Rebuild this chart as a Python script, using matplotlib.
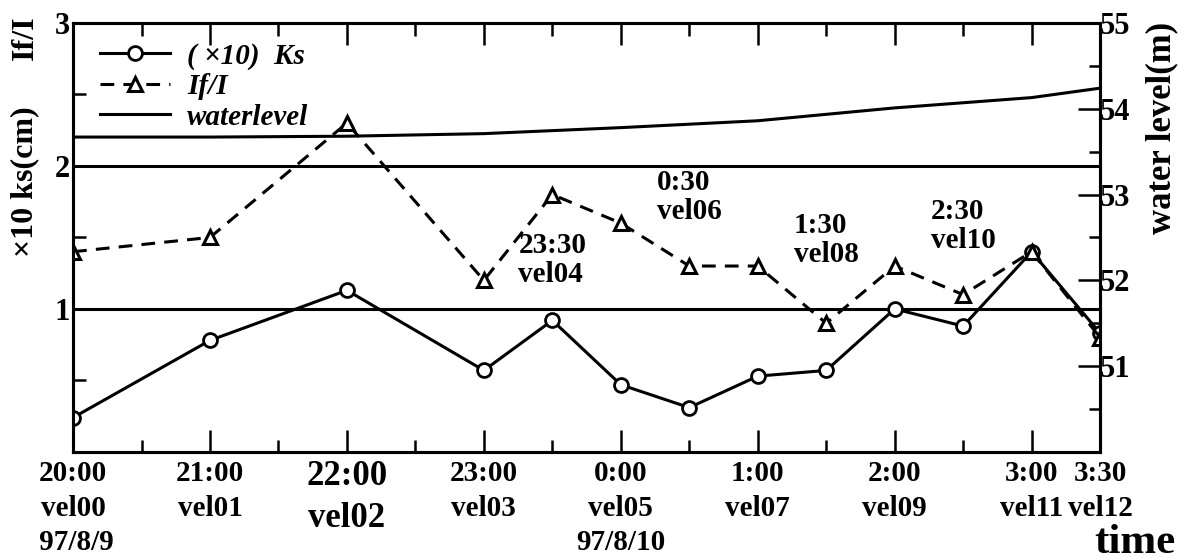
import matplotlib
matplotlib.use('Agg')
import matplotlib.pyplot as plt
from matplotlib.ticker import MultipleLocator, FixedLocator

plt.rcParams['font.family'] = ['Liberation Serif', 'DejaVu Serif']
plt.rcParams['font.weight'] = 'bold'

# data (hours after 20:00 on 97/8/9)
hours = [0, 1, 2, 3, 3.5, 4, 4.5, 5, 5.5, 6, 6.5, 7, 7.5]
ks10 = [0.24, 0.78, 1.13, 0.57, 0.92, 0.47, 0.31, 0.53, 0.57, 1.00, 0.88, 1.40, 0.83]
if_ratio = [1.4, 1.5, 2.3, 1.2, 1.8, 1.6, 1.3, 1.3, 0.9, 1.3, 1.1, 1.4, 0.8]
wl_hours = [0, 1, 2, 3, 4, 5, 6, 7, 7.5]
waterlevel = [53.67, 53.67, 53.68, 53.71, 53.78, 53.86, 54.01, 54.13, 54.24]

tick_hours = [0, 1, 2, 3, 4, 5, 6, 7, 7.5]
tick_labels = ['20:00\nvel00\n 97/8/9', '21:00\nvel01', '22:00\nvel02', '23:00\nvel03',
               '0:00\nvel05\n97/8/10', '1:00\nvel07', '2:00\nvel09', '3:00\nvel11', '3:30\nvel12']
half_hours = [3.5, 4.5, 5.5, 6.5]
half_labels = ['23:30\nvel04', '0:30\nvel06', '1:30\nvel08', '2:30\nvel10']

fig = plt.figure(figsize=(11.88, 5.6), dpi=100)
ax = fig.add_axes([0.0615, 0.193, 0.8645, 0.766])
ax2 = ax.twinx()

lw = 2.2
ax.axhline(1, color='k', lw=lw, zorder=1)
ax.axhline(2, color='k', lw=lw, zorder=1)

l1, = ax.plot(hours, ks10, '-', color='k', lw=lw, marker='o', markersize=10,
              markerfacecolor='white', markeredgewidth=2, label='( \u00d710)  Ks', zorder=3)
l2, = ax.plot(hours, if_ratio, '--', color='k', lw=lw, dashes=(4.5, 3), marker='^', markersize=10,
              markerfacecolor='white', markeredgewidth=2.2, label='If/I', zorder=3)
l3, = ax2.plot(wl_hours, waterlevel, '-', color='k', lw=lw, label='waterlevel')

ax.set_xlim(0, 7.5)
ax.set_ylim(0, 3)
ax2.set_ylim(50, 55)

for s in ax.spines.values():
    s.set_linewidth(2.2)
for s in ax2.spines.values():
    s.set_linewidth(2.2)

ax.xaxis.set_major_locator(FixedLocator(tick_hours))
ax.set_xticklabels(tick_labels, fontsize=21, linespacing=1.35)
ax.xaxis.set_minor_locator(MultipleLocator(0.5))
ax.tick_params(axis='x', which='major', direction='in', length=16, width=1.8, top=True, pad=6)
ax.tick_params(axis='x', which='minor', direction='in', length=9, width=1.8, top=True)
ax.get_xticklabels()[2].set_fontsize(25)

ax.set_yticks([1, 2, 3])
ax.set_yticklabels(['1', '2', '3'], fontsize=22)
ax.yaxis.set_minor_locator(MultipleLocator(0.5))
ax.tick_params(axis='y', which='both', direction='in', length=9, width=1.8, pad=2)

ax2.set_yticks([51, 52, 53, 54, 55])
ax2.set_yticklabels(['51', '52', '53', '54', '55'], fontsize=22)
ax2.yaxis.set_minor_locator(MultipleLocator(0.5))
ax2.tick_params(axis='y', which='major', direction='in', length=16, width=1.8, pad=0)
ax2.tick_params(axis='y', which='minor', direction='in', length=8, width=1.8)

for h, txt, yy in zip(half_hours, half_labels, [1.34, 1.78, 1.48, 1.58]):
    ax.text(h, yy, txt, ha='center', va='center', ma='left', fontsize=21, linespacing=1.1)

ax.legend(handles=[l1, l2, l3], loc='upper left', bbox_to_anchor=(0.026, 0.955),
          frameon=False, borderaxespad=0, borderpad=0, labelspacing=0.12,
          handlelength=2.4, handletextpad=0.6,
          prop={'size': 21, 'style': 'italic', 'weight': 'bold'})

fig.text(25 / 1188, 1 - 182 / 560, '\u00d710 ks(cm)', rotation=90, ha='center', va='center', fontsize=23)
fig.text(25 / 1188, 1 - 38 / 560, 'If/I', rotation=90, ha='center', va='center', fontsize=23)
fig.text(1162 / 1188, 1 - 128 / 560, 'water level(m)', rotation=90, ha='center', va='center', fontsize=25)
fig.text(1135 / 1188, 1 - 543 / 560, 'time', ha='center', va='center', fontsize=31)

fig.savefig('out.png', dpi=100)
